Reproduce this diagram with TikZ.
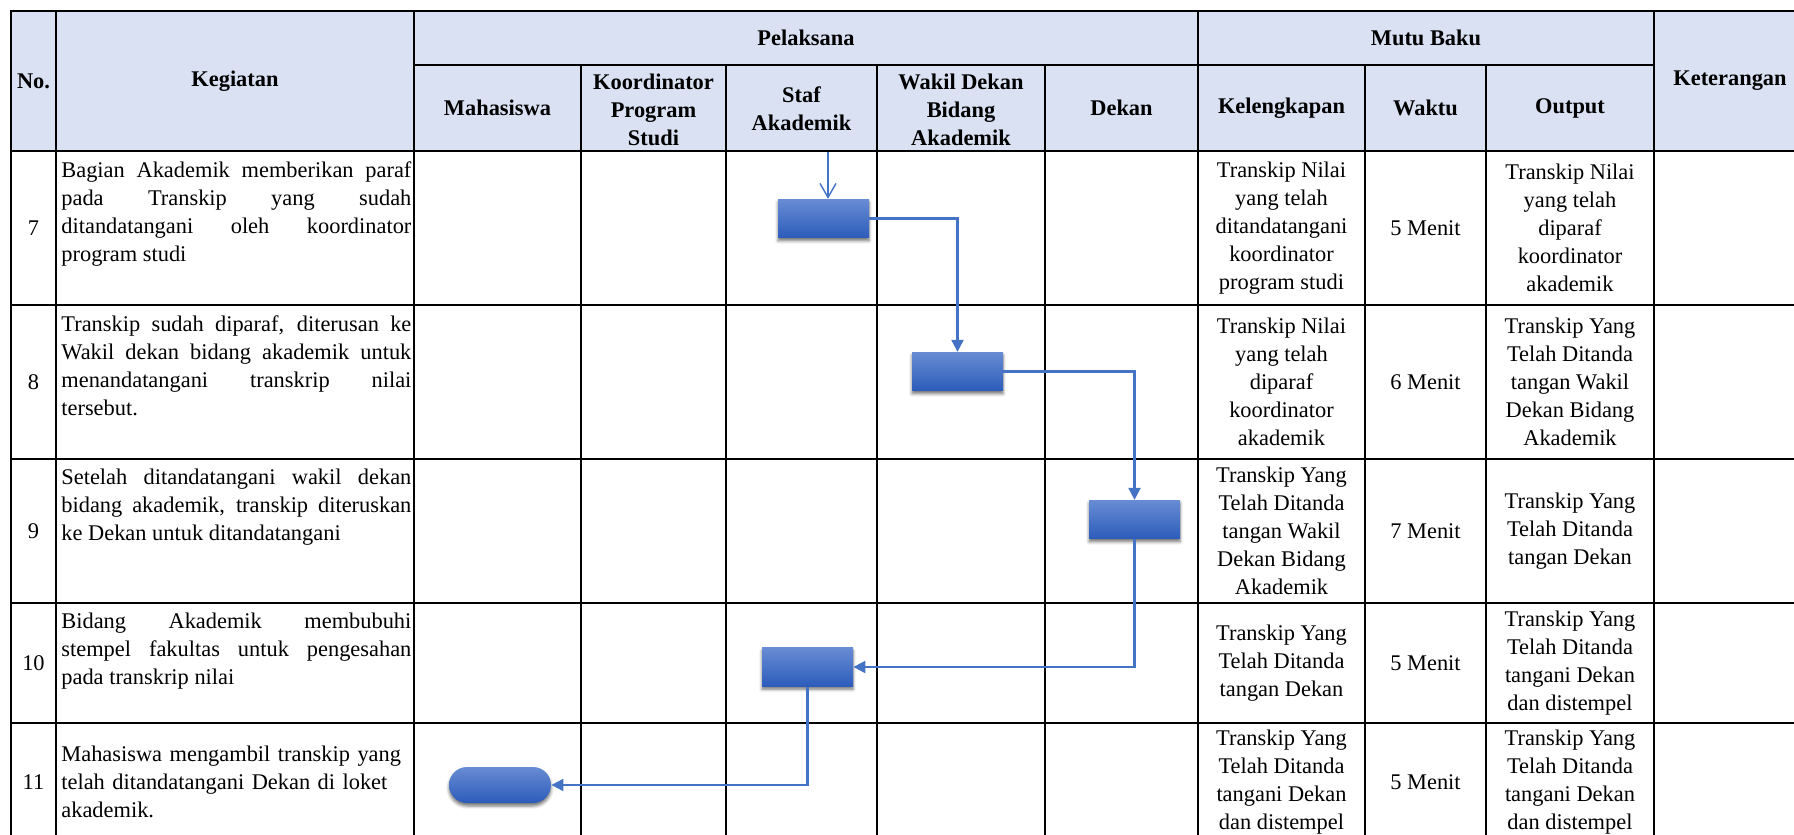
\documentclass[tikz,border=0pt]{standalone}
\usepackage{fontspec}
\setmainfont{Liberation Serif}
\usetikzlibrary{arrows.meta,shadows.blur}
\definecolor{hdrblue}{RGB}{217,225,242}
\definecolor{flowblue}{RGB}{68,114,196}
\definecolor{boxtop}{RGB}{104,140,212}
\definecolor{boxbot}{RGB}{44,92,186}
\newcommand{\jline}[1]{\makebox[175pt][s]{\spaceskip=0pt\xspaceskip=0pt #1}\\}

\begin{document}
\begin{tikzpicture}[
  x=0.5pt, y=-0.5pt,
  font=\fontsize{11.2}{14}\selectfont,
  grid/.style={line width=1.35pt, line cap=rect},
  hdr/.style={font=\fontsize{11.2}{14}\selectfont\bfseries,
              align=center, inner sep=0pt},
  cell/.style={align=center, inner sep=0pt},
  keg/.style={text width=175pt, align=justify, inner sep=0pt,
              anchor=north west},
  act/.style={minimum width=45.5pt, minimum height=19.25pt, inner sep=0pt,
              top color=boxtop, bottom color=boxbot,
              blur shadow={shadow xshift=0pt, shadow yshift=-1.5pt,
                           shadow blur radius=1.5pt, shadow opacity=55}},
  term/.style={act, minimum width=51pt, minimum height=18pt,
               rounded corners=9pt},
  arr/.style={draw=flowblue, line width=1.1pt,
              -{Triangle[length=6pt,width=6pt]}},
  arrin/.style={draw=flowblue, line width=0.7pt,
                -{Straight Barb[length=7pt,width=8pt]}}
]
\useasboundingbox (0,0) rectangle (1794,835);
\clip (0,0) rectangle (1794,835);
\fill[hdrblue] (11,11) rectangle (1800,151);

\node[hdr] (hNo) at (33.5,81) {No.};
\node[hdr] (hKeg) at (235,81) {Kegiatan};
\node[hdr] (hPel) at (806,38) {Pelaksana};
\node[hdr] (hMutu) at (1426,38) {Mutu Baku};
\node[hdr] (hKet) at (1730,81) {Keterangan};
\node[hdr] (hMhs) at (497.5,108) {Mahasiswa};
\node[hdr] (hKpr) at (653.5,110) {Koordinator\\Program\\Studi};
\node[hdr] (hStaf) at (801.5,109) {Staf\\Akademik};
\node[hdr] (hWd) at (961,110) {Wakil Dekan\\Bidang\\Akademik};
\node[hdr] (hDek) at (1121.5,108) {Dekan};
\node[hdr] (hKel) at (1281.5,108) {Kelengkapan};
\node[hdr] (hWkt) at (1425.5,108) {Waktu};
\node[hdr] (hOut) at (1570,108) {Output};

\node[cell] (n7) at (33.5,228) {7};
\node[cell] (n8) at (33.5,382) {8};
\node[cell] (n9) at (33.5,531) {9};
\node[cell] (n10) at (33.5,663) {10};
\node[cell] (n11) at (33.5,782) {11};

\node[keg] (k7) at (61,161)
  {\jline{Bagian Akademik memberikan paraf}\jline{pada Transkip yang sudah}%
   \jline{ditandatangani oleh koordinator}program studi};
\node[keg] (k8) at (61,315)
  {\jline{Transkip sudah diparaf, diterusan ke}%
   \jline{Wakil dekan bidang akademik untuk}%
   \jline{menandatangani transkrip nilai}tersebut.};
\node[keg] (k9) at (61,469)
  {\jline{Setelah ditandatangani wakil dekan}%
   \jline{bidang akademik, transkip diteruskan}ke Dekan untuk ditandatangani};
\node[keg] (k10) at (61,613)
  {\jline{Bidang Akademik membubuhi}%
   \jline{stempel fakultas untuk pengesahan}pada transkrip nilai};
\node[keg, align=left, anchor=west] (k11) at (61,782)
  {Mahasiswa mengambil transkip yang\\telah ditandatangani Dekan di loket\\akademik.};

\node[cell] (kl7) at (1281.5,228)
  {Transkip Nilai\\yang telah\\ditandatangani\\koordinator\\program studi};
\node[cell] (kl8) at (1281.5,382)
  {Transkip Nilai\\yang telah\\diparaf\\koordinator\\akademik};
\node[cell] (kl9) at (1281.5,531)
  {Transkip Yang\\Telah Ditanda\\tangan Wakil\\Dekan Bidang\\Akademik};
\node[cell] (kl10) at (1281.5,663)
  {Transkip Yang\\Telah Ditanda\\tangan Dekan};
\node[cell] (kl11) at (1281.5,782)
  {Transkip Yang\\Telah Ditanda\\tangani Dekan\\dan distempel};

\node[cell] (w7) at (1425.5,228) {5 Menit};
\node[cell] (w8) at (1425.5,382) {6 Menit};
\node[cell] (w9) at (1425.5,531) {7 Menit};
\node[cell] (w10) at (1425.5,663) {5 Menit};
\node[cell] (w11) at (1425.5,782) {5 Menit};

\node[cell] (o7) at (1570,228)
  {Transkip Nilai\\yang telah\\diparaf\\koordinator\\akademik};
\node[cell] (o8) at (1570,382)
  {Transkip Yang\\Telah Ditanda\\tangan Wakil\\Dekan Bidang\\Akademik};
\node[cell] (o9) at (1570,531)
  {Transkip Yang\\Telah Ditanda\\tangan Dekan};
\node[cell] (o10) at (1570,663)
  {Transkip Yang\\Telah Ditanda\\tangani Dekan\\dan distempel};
\node[cell] (o11) at (1570,782)
  {Transkip Yang\\Telah Ditanda\\tangani Dekan\\dan distempel};

\draw[grid] (11,11) -- (1800,11);
\draw[grid] (414,65) -- (1654,65);
\draw[grid] (11,151) -- (1800,151);
\draw[grid] (11,305) -- (1800,305);
\draw[grid] (11,459) -- (1800,459);
\draw[grid] (11,603) -- (1800,603);
\draw[grid] (11,723) -- (1800,723);
\draw[grid] (11,11) -- (11,850);
\draw[grid] (56,11) -- (56,850);
\draw[grid] (414,11) -- (414,850);
\draw[grid] (581,65) -- (581,850);
\draw[grid] (726,65) -- (726,850);
\draw[grid] (877,65) -- (877,850);
\draw[grid] (1045,65) -- (1045,850);
\draw[grid] (1198,11) -- (1198,850);
\draw[grid] (1365,65) -- (1365,850);
\draw[grid] (1486,65) -- (1486,850);
\draw[grid] (1654,11) -- (1654,850);

\coordinate (in7) at (828,152);
\node[act] (p7) at (823.5,218.5) {};
\node[act] (p8) at (957.5,371.5) {};
\node[act] (p9) at (1134.5,519.5) {};
\node[act] (p10) at (807.5,667) {};
\node[term] (t11) at (500,785) {};

\draw[arrin] (in7) -- (in7 |- p7.north);
\draw[arr] (p7) -| (p8);
\draw[arr] (p8) -| (p9);
\draw[arr] (p9) |- (p10);
\draw[arr] (p10) |- (t11);
\end{tikzpicture}
\end{document}
